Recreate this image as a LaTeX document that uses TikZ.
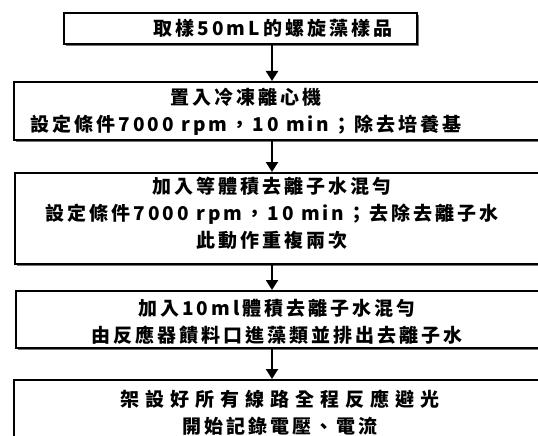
\documentclass[tikz,border=0pt]{standalone}
\usepackage{fontspec}
\setmainfont{Noto Sans CJK TC}[LetterSpace=16]
\usetikzlibrary{positioning,arrows.meta,shadows}

\begin{document}
\begin{tikzpicture}[x=1pt,y=-1pt,
  box/.style={draw,line width=2.4pt,fill=white,anchor=north west,inner sep=0pt,
    drop shadow={shadow xshift=1.4pt,shadow yshift=-1.4pt,fill=black!55,opacity=1}},
  txt/.style={align=center,inner sep=0pt,font=\fontsize{19}{27}\selectfont\bfseries},
  flow/.style={line width=2.2pt,-{Triangle[width=12pt,length=10pt]}}]
\useasboundingbox (0,0) rectangle (538,436);
% boxes of the procedure (right side runs off the page)
\node[box,minimum width=353,minimum height=31] (b1) at (63,12) {};
\node[box,minimum width=532,minimum height=58] (b2) at (13,81) {};
\node[box,minimum width=531,minimum height=91] (b3) at (14,172) {};
\node[box,minimum width=530,minimum height=57] (b4) at (15,290) {};
\node[box,minimum width=532,minimum height=80] (b5) at (13,379) {};
% texts
\node[txt] (t1) at (273,28) {取樣50mL的螺旋藻樣品};
\node[txt] (t2) at (246,112) {置入冷凍離心機\\設定條件7000 rpm，10 min；除去培養基};
\node[txt] (t3) at (272,213) {加入等體積去離子水混勻\\設定條件7000 rpm，10 min；去除去離子水\\此動作重複兩次};
\node[txt] (t4) at (277,322) {加入10ml體積去離子水混勻\\由反應器饋料口進藻類並排出去離子水};
\node[txt] (t5) at (280,413) {{\addfontfeature{LetterSpace=32}架設好所有線路全程反應避光}\\開始記錄電壓、電流};
% flow arrows down the axis
\coordinate (ax) at (272,0);
\draw[flow] (b1.south -| ax) -- (b2.north -| ax);
\draw[flow] (b2.south -| ax) -- (b3.north -| ax);
\draw[flow] (b3.south -| ax) -- (b4.north -| ax);
\draw[flow] (b4.south -| ax) -- (b5.north -| ax);
\end{tikzpicture}
\end{document}
